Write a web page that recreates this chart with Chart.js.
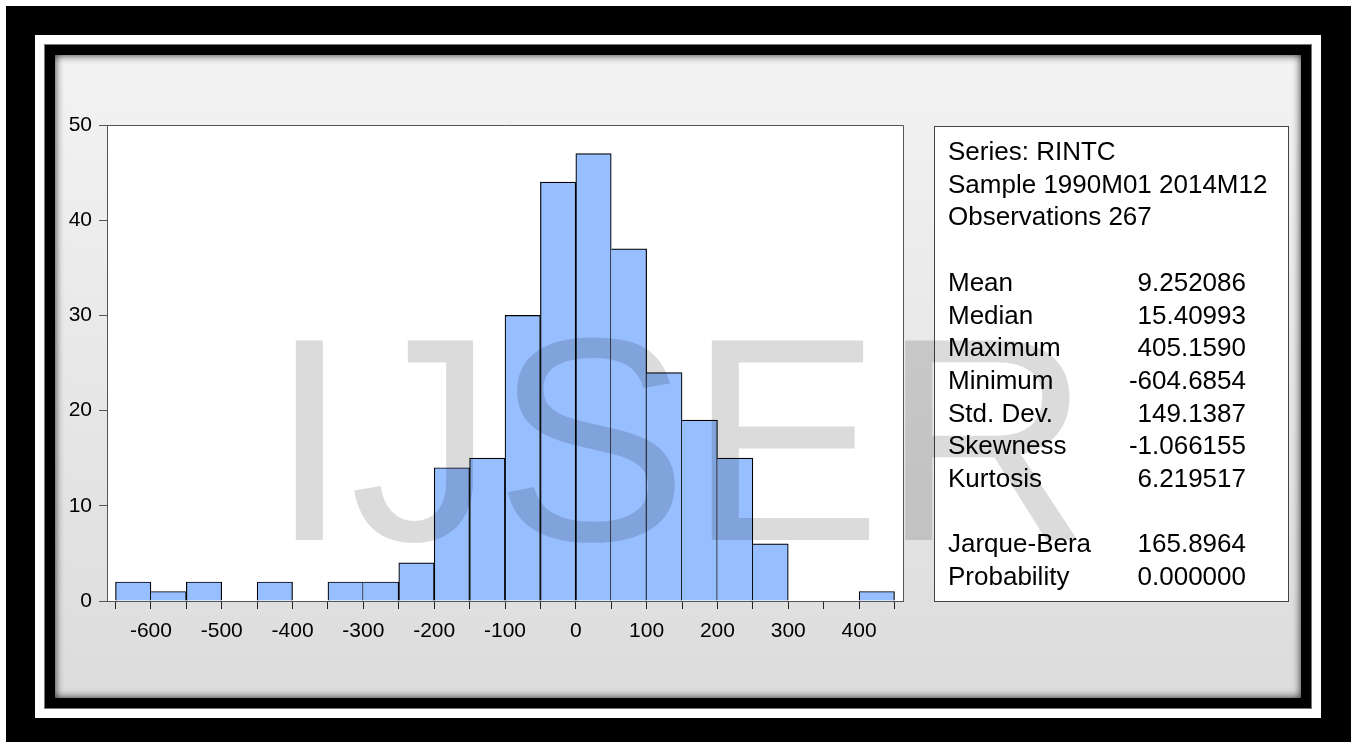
<!DOCTYPE html>
<html>
<head>
<meta charset="utf-8">
<script src="https://cdn.jsdelivr.net/npm/chart.js@4.4.1/dist/chart.umd.min.js"></script>
<style>
  html, body { margin: 0; padding: 0; background: #fff; }
  #wrap { width: 1351px; height: 742px; position: relative; }
</style>
</head>
<body>
<div id="wrap"><canvas id="c"></canvas></div>
<script>
// ---- Data ----
const binCenters = [-625, -575, -525, -475, -425, -375, -325, -275, -225, -175, -125, -75, -25, 25, 75, 125, 175, 225, 275, 325, 375, 425];
const binCounts  = [2, 1, 2, 0, 2, 0, 2, 2, 4, 14, 15, 30, 44, 47, 37, 24, 19, 15, 6, 0, 0, 1];
const xTickValues = [-650, -600, -550, -500, -450, -400, -350, -300, -250, -200, -150, -100, -50, 0, 50, 100, 150, 200, 250, 300, 350, 400, 450];
const xTickLabels = ['-600', '-500', '-400', '-300', '-200', '-100', '0', '100', '200', '300', '400'];
const yTickValues = [0, 10, 20, 30, 40, 50];
const headerLines = ['Series: RINTC', 'Sample 1990M01 2014M12', 'Observations 267'];
const statNames  = ['Mean', 'Median', 'Maximum', 'Minimum', 'Std. Dev.', 'Skewness', 'Kurtosis'];
const statValues = ['9.252086', '15.40993', '405.1590', '-604.6854', '149.1387', '-1.066155', '6.219517'];
const testNames  = ['Jarque-Bera', 'Probability'];
const testValues = ['165.8964', '0.000000'];
const watermark = 'IJSER';

const FONT = "'Liberation Sans', Arial, sans-serif";

const framePlugin = {
  id: 'frame',
  beforeDraw(chart) {
    const ctx = chart.ctx;
    ctx.save();
    ctx.fillStyle = '#ffffff';
    ctx.fillRect(0, 0, 1351, 742);
    ctx.fillStyle = '#000000';
    ctx.fillRect(6, 6, 1345, 736);
    ctx.fillStyle = '#ffffff';
    ctx.fillRect(35, 35, 1286, 683);
    ctx.fillStyle = '#777';
    ctx.fillRect(44, 44, 1268, 665);
    ctx.fillStyle = '#000000';
    ctx.fillRect(45, 45, 1266, 663);
    // panel
    const g = ctx.createLinearGradient(0, 55, 0, 698);
    g.addColorStop(0, '#f3f3f3');
    g.addColorStop(1, '#dcdcdc');
    ctx.fillStyle = g;
    ctx.fillRect(55, 55, 1246, 643);
    // inner shadow
    ctx.save();
    ctx.beginPath();
    ctx.rect(55, 55, 1246, 643);
    ctx.clip();
    ctx.shadowColor = 'rgba(0,0,0,0.85)';
    ctx.shadowBlur = 9;
    ctx.strokeStyle = '#000';
    ctx.lineWidth = 20;
    ctx.strokeRect(45, 45, 1266, 663);
    ctx.restore();
    // plot background
    const a = chart.chartArea;
    ctx.fillStyle = '#ffffff';
    ctx.fillRect(a.left, a.top, a.right - a.left, a.bottom - a.top);
    // stats box
    ctx.fillStyle = '#ffffff';
    ctx.fillRect(934, 126, 354, 475);
    ctx.strokeStyle = '#444';
    ctx.lineWidth = 1;
    ctx.strokeRect(934.5, 126.5, 354, 475);
    ctx.restore();
  },
  afterDraw(chart) {
    const ctx = chart.ctx;
    const a = chart.chartArea;
    ctx.save();
    // plot frame top/right
    ctx.strokeStyle = '#555';
    ctx.lineWidth = 1;
    ctx.beginPath();
    ctx.moveTo(a.left, Math.round(a.top) + 0.5);
    ctx.lineTo(a.right + 0.5, Math.round(a.top) + 0.5);
    ctx.lineTo(Math.round(a.right) + 0.5, a.bottom);
    ctx.stroke();
    // stats text
    ctx.fillStyle = '#000';
    ctx.font = '26px ' + FONT;
    ctx.textBaseline = 'alphabetic';
    const lh = 32.7;
    let y = 160;
    const lx = 948, rx = 1246;
    headerLines.forEach(t => { ctx.textAlign = 'left'; ctx.fillText(t, lx, y); y += lh; });
    y += lh;
    statNames.forEach((t, i) => {
      ctx.textAlign = 'left'; ctx.fillText(t, lx, y);
      ctx.textAlign = 'right'; ctx.fillText(statValues[i], rx, y);
      y += lh;
    });
    y += lh;
    testNames.forEach((t, i) => {
      ctx.textAlign = 'left'; ctx.fillText(t, lx, y);
      ctx.textAlign = 'right'; ctx.fillText(testValues[i], rx, y);
      y += lh;
    });
    // watermark
    ctx.font = '290px ' + FONT;
    ctx.textAlign = 'left';
    ctx.fillStyle = 'rgba(0,0,0,0.14)';
    ctx.fillText(watermark, 269, 540);
    ctx.restore();
  }
};

const ctx = document.getElementById('c').getContext('2d');
new Chart(ctx, {
  type: 'bar',
  data: {
    datasets: [{
      data: binCenters.map((x, i) => ({ x: x, y: binCounts[i] })),
      backgroundColor: '#97beff',
      borderColor: '#000000',
      borderWidth: (c) => {
        const i = c.dataIndex;
        const prev = i > 0 ? binCounts[i - 1] : 0;
        return { top: 1.2, right: 1.2, bottom: 0, left: prev < binCounts[i] ? 1.2 : 0 };
      },
      borderSkipped: 'bottom',
      barPercentage: 1.0,
      categoryPercentage: 1.0
    }]
  },
  options: {
    responsive: true,
    maintainAspectRatio: false,
    animation: false,
    devicePixelRatio: 1,
    layout: { padding: { left: 55, right: 448, top: 125, bottom: 91 } },
    plugins: { legend: { display: false }, tooltip: { enabled: false } },
    scales: {
      x: {
        type: 'linear',
        min: -662,
        max: 462,
        offset: false,
        afterBuildTicks: (s) => { s.ticks = xTickValues.map(v => ({ value: v })); },
        afterFit: (s) => { s.height = 50; },
        grid: { display: true, drawOnChartArea: false, drawTicks: true, tickLength: 8, color: '#222', offset: false },
        border: { display: true, color: '#555', width: 1 },
        ticks: {
          autoSkip: false, maxRotation: 0, minRotation: 0, padding: 10,
          color: '#000',
          font: { family: FONT, size: 21 },
          callback: (v) => xTickLabels.includes(String(v)) ? String(v) : ''
        }
      },
      y: {
        min: 0,
        max: 50,
        afterBuildTicks: (s) => { s.ticks = yTickValues.map(v => ({ value: v })); },
        afterFit: (s) => { s.width = 52; },
        grid: { display: true, drawOnChartArea: false, drawTicks: true, tickLength: 8, color: '#555' },
        border: { display: true, color: '#555', width: 1 },
        ticks: {
          color: '#000', padding: 7,
          font: { family: FONT, size: 21 }
        }
      }
    }
  },
  plugins: [framePlugin]
});
</script>
</body>
</html>
